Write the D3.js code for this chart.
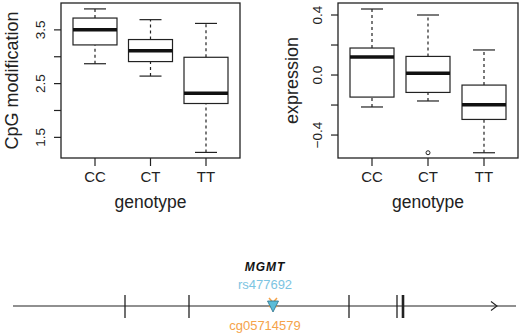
<!DOCTYPE html>
<html>
<head>
<meta charset="utf-8">
<script src="https://cdn.jsdelivr.net/npm/d3@7"></script>
<style>
  body { margin: 0; background: #fff; }
  svg text { font-family: "Liberation Sans", Arial, sans-serif; }
</style>
</head>
<body>
<svg id="chart" width="520" height="336"></svg>
<script>
// genotype groups
var genotypes = ["CC", "CT", "TT"];

// CpG modification boxplot stats: [whiskerLow, q1, median, q3, whiskerHigh]
var cpgStats = [
  [2.87, 3.22, 3.50, 3.72, 3.89],
  [2.64, 2.91, 3.11, 3.32, 3.69],
  [1.22, 2.13, 2.32, 2.99, 3.62]
];
var cpgOutliers = [[], [], []];
var cpgTicks = [1.5, 2, 2.5, 3, 3.5];
var cpgLabels = ["1.5", "", "2.5", "", "3.5"];

// expression boxplot stats
var exprStats = [
  [-0.213, -0.147, 0.12, 0.18, 0.44],
  [-0.173, -0.116, 0.011, 0.124, 0.40],
  [-0.518, -0.296, -0.198, -0.067, 0.167]
];
var exprOutliers = [[], [-0.518], []];
var exprTicks = [-0.4, -0.2, 0, 0.2, 0.4];
var exprLabels = ["\u22120.4", "", "0.0", "", "0.4"];

// gene track: exon boundary positions (relative coordinate), SNP / CpG position
var exonMarks = [125, 189, 349, 397, 403];
var exonWidths = [1, 1, 1, 1, 2];
var snpPos = 273;
var geneName = "MGMT";
var snpName = "rs477692";
var cpgName = "cg05714579";

var svg = d3.select("#chart");

function boxPanel(frameL, frameR, domain, stats, outliers, ticks, labels, ylab, labX, tickLabX) {
  var g = svg.append("g");
  var top = 3, bottom = 158;
  var y = d3.scaleLinear().domain(domain).range([bottom, top]);
  var x = d3.scalePoint().domain(genotypes).range([frameL + 34, frameR - 34]);
  var bw = 44;

  // frame
  g.append("rect").attr("x", frameL).attr("y", top)
    .attr("width", frameR - frameL).attr("height", bottom - top)
    .attr("fill", "none").attr("stroke", "#222").attr("stroke-width", 1.3);

  // y axis ticks
  ticks.forEach(function(t, i) {
    g.append("line").attr("x1", frameL - 7).attr("x2", frameL)
      .attr("y1", y(t)).attr("y2", y(t)).attr("stroke", "#222").attr("stroke-width", 1.2);
    if (labels[i]) {
      g.append("text").attr("transform", "translate(" + tickLabX + "," + y(t) + ") rotate(-90)")
        .attr("text-anchor", "middle").attr("dy", "0.35em")
        .attr("font-size", 13.5).attr("fill", "#222").text(labels[i]);
    }
  });
  g.append("text").attr("transform", "translate(" + labX + "," + ((top + bottom) / 2) + ") rotate(-90)")
    .attr("text-anchor", "middle").attr("dy", "0.35em")
    .attr("font-size", 18).attr("fill", "#222").text(ylab);

  // x axis ticks
  genotypes.forEach(function(gn) {
    g.append("line").attr("x1", x(gn)).attr("x2", x(gn))
      .attr("y1", bottom).attr("y2", bottom + 8).attr("stroke", "#222").attr("stroke-width", 1.2);
    g.append("text").attr("x", x(gn)).attr("y", 182)
      .attr("text-anchor", "middle").attr("font-size", 15).attr("fill", "#222").text(gn);
  });
  g.append("text").attr("x", (frameL + frameR) / 2).attr("y", 208)
    .attr("text-anchor", "middle").attr("font-size", 17.5).attr("fill", "#222").text("genotype");

  // boxes
  stats.forEach(function(s, i) {
    var cx = x(genotypes[i]);
    g.append("line").attr("x1", cx).attr("x2", cx).attr("y1", y(s[0])).attr("y2", y(s[1]))
      .attr("stroke", "#222").attr("stroke-dasharray", "3,3").attr("stroke-width", 1.2);
    g.append("line").attr("x1", cx).attr("x2", cx).attr("y1", y(s[3])).attr("y2", y(s[4]))
      .attr("stroke", "#222").attr("stroke-dasharray", "3,3").attr("stroke-width", 1.2);
    [s[0], s[4]].forEach(function(v) {
      g.append("line").attr("x1", cx - bw / 4).attr("x2", cx + bw / 4)
        .attr("y1", y(v)).attr("y2", y(v)).attr("stroke", "#222").attr("stroke-width", 1.2);
    });
    g.append("rect").attr("x", cx - bw / 2).attr("y", y(s[3]))
      .attr("width", bw).attr("height", y(s[1]) - y(s[3]))
      .attr("fill", "#fff").attr("stroke", "#222").attr("stroke-width", 1.2);
    g.append("line").attr("x1", cx - bw / 2).attr("x2", cx + bw / 2)
      .attr("y1", y(s[2])).attr("y2", y(s[2])).attr("stroke", "#111").attr("stroke-width", 3.5);
    outliers[i].forEach(function(o) {
      g.append("circle").attr("cx", cx).attr("cy", y(o)).attr("r", 2)
        .attr("fill", "none").attr("stroke", "#222").attr("stroke-width", 1);
    });
  });
}

boxPanel(61, 240, [1.116, 4.0], cpgStats, cpgOutliers, cpgTicks, cpgLabels, "CpG modification", 12, 40);
boxPanel(338, 518, [-0.553, 0.48], exprStats, exprOutliers, exprTicks, exprLabels, "expression", 292, 317);

// gene track
var gx = d3.scaleLinear().domain([0, 520]).range([0, 520]);
var ly = 306;
svg.append("line").attr("x1", gx(13)).attr("x2", gx(516)).attr("y1", ly).attr("y2", ly)
  .attr("stroke", "#222").attr("stroke-width", 1.2);
svg.append("path").attr("d", "M" + gx(491) + "," + (ly - 4.5) + "L" + gx(497) + "," + ly + "L" + gx(491) + "," + (ly + 4.5))
  .attr("fill", "none").attr("stroke", "#222").attr("stroke-width", 1.1);
exonMarks.forEach(function(p, i) {
  svg.append("line").attr("x1", gx(p)).attr("x2", gx(p)).attr("y1", ly - 11).attr("y2", ly + 12)
    .attr("stroke", "#222").attr("stroke-width", exonWidths[i] * 1.3);
});
var sx = gx(snpPos);
// orange cross for CpG
svg.append("path").attr("d", "M" + (sx - 4) + "," + (ly - 8) + "L" + (sx + 4) + "," + (ly + 1) +
    "M" + (sx + 4) + "," + (ly - 8) + "L" + (sx - 4) + "," + (ly + 1))
  .attr("stroke", "#f5a34a").attr("stroke-width", 1.5).attr("fill", "none");
// blue triangle for SNP
svg.append("path").attr("d", "M" + (sx - 5.5) + "," + (ly - 5) + "L" + (sx + 5.5) + "," + (ly - 5) + "L" + sx + "," + (ly + 6) + "Z")
  .attr("fill", "#5bbcd8").attr("stroke", "#2a6f88").attr("stroke-width", 0.8);

svg.append("text").attr("x", 265).attr("y", 271).attr("text-anchor", "middle")
  .attr("font-size", 12).attr("font-weight", "bold").attr("font-style", "italic")
  .attr("letter-spacing", 1).attr("fill", "#111").text(geneName);
svg.append("text").attr("x", 265).attr("y", 289).attr("text-anchor", "middle")
  .attr("font-size", 13).attr("fill", "#7cc4e2").text(snpName);
svg.append("text").attr("x", 265).attr("y", 330).attr("text-anchor", "middle")
  .attr("font-size", 13).attr("fill", "#f5a34a").text(cpgName);
</script>
</body>
</html>
